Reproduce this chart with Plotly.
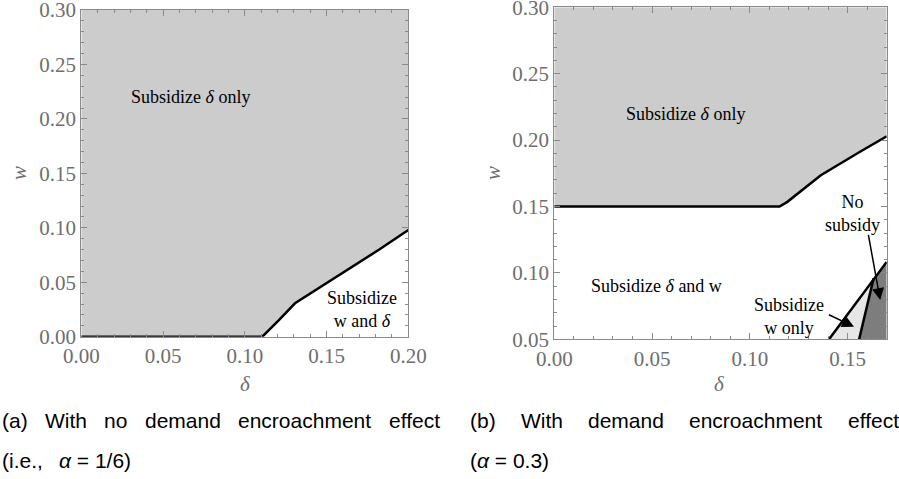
import plotly.graph_objects as go

# ---------------- data ----------------
# panel (a): boundary between "Subsidize δ only" and "Subsidize w and δ"
a_bound_delta = [0.0, 0.1107, 0.1207, 0.1307, 0.1827, 0.2]
a_bound_w = [0.0, 0.0, 0.015, 0.0307, 0.0805, 0.098]

# panel (b): upper boundary
b_bound_delta = [0.0, 0.1152, 0.1192, 0.1363, 0.1568, 0.17]
b_bound_w = [0.15, 0.15, 0.1535, 0.1735, 0.1916, 0.2029]
# panel (b): lower-right lines
b_line1_delta = [0.1405, 0.17]
b_line1_w = [0.05, 0.1083]
b_line2_delta = [0.1559, 0.1633]
b_line2_w = [0.05, 0.0959]

a_xticks = [0.0, 0.05, 0.10, 0.15, 0.20]
a_yticks = [0.0, 0.05, 0.10, 0.15, 0.20, 0.25, 0.30]
b_xticks = [0.0, 0.05, 0.10, 0.15]
b_yticks = [0.05, 0.10, 0.15, 0.20, 0.25, 0.30]

W, H = 899, 479
GRAY = "#cccccc"
LIGHT = "#e6e6e6"
DARK = "#7d7d7d"
FRAME = "#8a8a8a"
TICKC = "#6e6e6e"
SERIF = "Liberation Serif"
SANS = "Liberation Sans"

fig = go.Figure()

# ---- panel (a) ----
fig.add_trace(go.Scatter(
    x=a_bound_delta + [0.2, 0.0], y=a_bound_w + [0.3, 0.3],
    fill="toself", fillcolor=GRAY, line=dict(width=0), mode="lines",
    xaxis="x", yaxis="y", hoverinfo="skip", showlegend=False))
fig.add_trace(go.Scatter(
    x=a_bound_delta, y=a_bound_w, mode="lines",
    line=dict(color="black", width=2.5), xaxis="x", yaxis="y",
    showlegend=False))

# ---- panel (b) ----
fig.add_trace(go.Scatter(
    x=b_bound_delta + [0.17, 0.0], y=b_bound_w + [0.3, 0.3],
    fill="toself", fillcolor=GRAY, line=dict(width=0), mode="lines",
    xaxis="x2", yaxis="y2", hoverinfo="skip", showlegend=False))
# light region (w only)
fig.add_trace(go.Scatter(
    x=[b_line1_delta[0], b_line2_delta[1], b_line2_delta[0]],
    y=[b_line1_w[0], b_line2_w[1], b_line2_w[0]],
    fill="toself", fillcolor=LIGHT, line=dict(width=0), mode="lines",
    xaxis="x2", yaxis="y2", hoverinfo="skip", showlegend=False))
# dark region (no subsidy)
fig.add_trace(go.Scatter(
    x=[b_line2_delta[0], b_line2_delta[1], b_line1_delta[1], b_line1_delta[1]],
    y=[b_line2_w[0], b_line2_w[1], b_line1_w[1], b_line2_w[0]],
    fill="toself", fillcolor=DARK, line=dict(width=0), mode="lines",
    xaxis="x2", yaxis="y2", hoverinfo="skip", showlegend=False))
for xs, ys in [(b_bound_delta, b_bound_w), (b_line1_delta, b_line1_w),
               (b_line2_delta, b_line2_w)]:
    fig.add_trace(go.Scatter(
        x=xs, y=ys, mode="lines", line=dict(color="black", width=2.5),
        xaxis="x2", yaxis="y2", showlegend=False))


def axis(domain, rng, ticks, anchor):
    return dict(
        domain=domain, range=rng, anchor=anchor, automargin=False,
        tickvals=ticks, ticktext=[f"{t:.2f}" for t in ticks],
        ticks="inside", ticklen=6, tickwidth=1, tickcolor=FRAME,
        minor=dict(ticks="inside", dtick=0.01, ticklen=3, tickcolor=FRAME,
                   tickwidth=1, tick0=0),
        showline=True, linecolor=FRAME, linewidth=1, mirror="allticks",
        showgrid=False, zeroline=False, ticklabeloverflow="allow",
        tickfont=dict(family=SERIF, size=21, color=TICKC),
    )


fig.update_layout(
    width=W, height=H, margin=dict(l=0, r=0, t=0, b=0),
    paper_bgcolor="white", plot_bgcolor="white",
    xaxis=axis([81.3 / W, 408.3 / W], [0, 0.2], a_xticks, "y"),
    yaxis=axis([1 - 336.7 / H, 1 - 10 / H], [0, 0.3], a_yticks, "x"),
    xaxis2=axis([554.3 / W, 886.7 / W], [0, 0.17], b_xticks, "y2"),
    yaxis2=axis([1 - 339.3 / H, 1 - 7.3 / H], [0.05, 0.3], b_yticks, "x2"),
)
fig.layout.xaxis.ticklabelstandoff = 0
fig.layout.xaxis2.ticklabelstandoff = 0

ann = []
txt = dict(family=SERIF, size=18, color="black")
# in-plot labels
ann.append(dict(x=0.0669, y=0.2204, xref="x", yref="y",
                text="Subsidize <i>δ</i> only", showarrow=False, font=txt))
ann.append(dict(x=0.1717, y=0.025, xref="x", yref="y",
                text="Subsidize<br>w and <i>δ</i>", showarrow=False, font=txt))
ann.append(dict(x=0.067, y=0.2194, xref="x2", yref="y2",
                text="Subsidize <i>δ</i> only", showarrow=False, font=txt))
ann.append(dict(x=0.0525, y=0.090, xref="x2", yref="y2",
                text="Subsidize <i>δ</i> and w", showarrow=False, font=txt))
ann.append(dict(x=0.120, y=0.0675, xref="x2", yref="y2",
                text="Subsidize<br>w only", showarrow=False, font=txt))
ann.append(dict(x=0.1527, y=0.1444, xref="x2", yref="y2",
                text="No<br>subsidy", showarrow=False, font=txt))
# arrows
ann.append(dict(x=0.1667, y=0.0795, ax=0.1605, ay=0.1297,
                xref="x2", yref="y2", axref="x2", ayref="y2", text="",
                showarrow=True, arrowhead=2, arrowsize=1.6, arrowwidth=1.5,
                arrowcolor="black"))
ann.append(dict(x=0.1533, y=0.0595, ax=0.1397, ay=0.069,
                xref="x2", yref="y2", axref="x2", ayref="y2", text="",
                showarrow=True, arrowhead=2, arrowsize=1.6, arrowwidth=1.5,
                arrowcolor="black"))
# axis titles
lab = dict(family=SERIF, size=21, color=TICKC)
for xp in [19, 493]:
    ann.append(dict(x=xp / W, y=1 - 173 / H, xref="paper", yref="paper",
                    xanchor="center", yanchor="middle",
                    text="<i>w</i>", textangle=-90, showarrow=False, font=lab))
for xp in [245, 719]:
    ann.append(dict(x=xp / W, y=1 - 384 / H, xref="paper", yref="paper",
                    xanchor="center", yanchor="middle",
                    text="<i>δ</i>", showarrow=False, font=lab))

# captions (justified words)
cap = dict(family=SANS, size=21, color="black")
line1_a = [("(a)", 0), ("With", 43), ("no", 102), ("demand", 143),
           ("encroachment", 236), ("effect", 387)]
line1_b = [("(b)", 468), ("With", 519), ("demand", 586),
           ("encroachment", 687), ("effect", 846)]
line2 = [("(i.e.,", 0), ("<i>α</i> = 1/6)", 57), ("(<i>α</i> = 0.3)", 468)]
for words, yy in [(line1_a, 420), (line1_b, 420), (line2, 460)]:
    for w_, xp in words:
        ann.append(dict(x=xp / W, y=1 - yy / H, xref="paper", yref="paper",
                        xanchor="left", yanchor="middle", text=w_,
                        showarrow=False, font=cap))

fig.update_layout(annotations=ann)
fig.write_html("out.html")
